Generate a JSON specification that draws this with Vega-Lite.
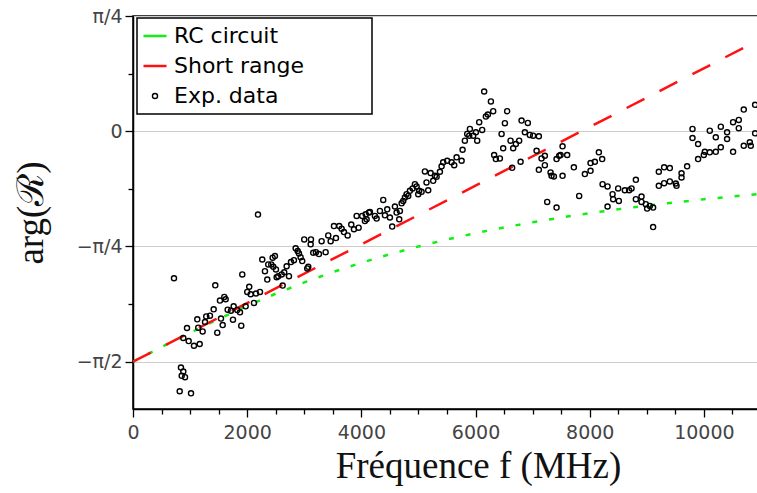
{
  "$schema": "https://vega.github.io/schema/vega-lite/v6.json",
  "width": 628,
  "height": 393,
  "autosize": {"type": "none"},
  "padding": {"left": 133, "top": 16, "right": 0, "bottom": 84},
  "background": "white",
  "config": {
    "view": {"stroke": "black", "strokeWidth": 1.5},
    "axis": {
      "domainColor": "black",
      "domainWidth": 1.5,
      "tickColor": "black",
      "tickWidth": 1.3,
      "labelFont": "DejaVu Sans",
      "labelFontSize": 19,
      "labelColor": "#444444",
      "titleFont": "Liberation Serif",
      "titleFontSize": 37,
      "titleFontWeight": "normal",
      "titleColor": "#111111"
    }
  },
  "datasets": {
    "rc": [
      {"f": 0, "phase": -1.5708}, {"f": 500, "phase": -1.4711}, {"f": 1000, "phase": -1.3734},
      {"f": 1500, "phase": -1.2793}, {"f": 2000, "phase": -1.1903}, {"f": 2500, "phase": -1.1072},
      {"f": 3000, "phase": -1.0304}, {"f": 3500, "phase": -0.9601}, {"f": 4000, "phase": -0.8961},
      {"f": 4500, "phase": -0.838}, {"f": 5000, "phase": -0.7854}, {"f": 5500, "phase": -0.7378},
      {"f": 6000, "phase": -0.6947}, {"f": 6500, "phase": -0.6557}, {"f": 7000, "phase": -0.6203},
      {"f": 7500, "phase": -0.588}, {"f": 8000, "phase": -0.5586}, {"f": 8500, "phase": -0.5317},
      {"f": 9000, "phase": -0.5071}, {"f": 9500, "phase": -0.4845}, {"f": 10000, "phase": -0.4637},
      {"f": 10500, "phase": -0.4445}, {"f": 11000, "phase": -0.4266}
    ],
    "short": [
      {"f": 0, "phase": -1.5708}, {"f": 11000, "phase": 0.6292}
    ],
    "exp": [
      {"f": 718, "phase": -1.002}, {"f": 840, "phase": -1.611}, {"f": 881, "phase": -1.638},
      {"f": 853, "phase": -1.667}, {"f": 911, "phase": -1.676}, {"f": 818, "phase": -1.772},
      {"f": 1016, "phase": -1.786}, {"f": 881, "phase": -1.409}, {"f": 975, "phase": -1.43},
      {"f": 1068, "phase": -1.462}, {"f": 1168, "phase": -1.45}, {"f": 946, "phase": -1.341},
      {"f": 1126, "phase": -1.282}, {"f": 1143, "phase": -1.339}, {"f": 1220, "phase": -1.364},
      {"f": 1261, "phase": -1.3}, {"f": 1283, "phase": -1.262}, {"f": 1348, "phase": -1.257},
      {"f": 1413, "phase": -1.214}, {"f": 1476, "phase": -1.373}, {"f": 1541, "phase": -1.277},
      {"f": 1571, "phase": -1.321}, {"f": 1523, "phase": -1.154}, {"f": 1599, "phase": -1.129},
      {"f": 1623, "phase": -1.145}, {"f": 1441, "phase": -1.05}, {"f": 1658, "phase": -1.216},
      {"f": 1716, "phase": -1.223}, {"f": 1763, "phase": -1.193}, {"f": 1751, "phase": -1.284},
      {"f": 1826, "phase": -1.218}, {"f": 1874, "phase": -1.234}, {"f": 1896, "phase": -1.325},
      {"f": 1973, "phase": -1.193}, {"f": 1914, "phase": -0.976}, {"f": 2119, "phase": -1.17},
      {"f": 2036, "phase": -1.06}, {"f": 2001, "phase": -1.095}, {"f": 2061, "phase": -1.111},
      {"f": 2154, "phase": -1.106}, {"f": 2224, "phase": -1.095}, {"f": 2264, "phase": -0.874},
      {"f": 2311, "phase": -0.954}, {"f": 2352, "phase": -1.011}, {"f": 2369, "phase": -0.908},
      {"f": 2189, "phase": -0.568}, {"f": 2446, "phase": -0.862}, {"f": 2486, "phase": -0.851},
      {"f": 2422, "phase": -0.908}, {"f": 2457, "phase": -0.924}, {"f": 2504, "phase": -0.942},
      {"f": 2544, "phase": -0.988}, {"f": 2516, "phase": -0.995}, {"f": 2621, "phase": -1.052},
      {"f": 2604, "phase": -0.976}, {"f": 2649, "phase": -0.961}, {"f": 2691, "phase": -0.92},
      {"f": 2732, "phase": -0.988}, {"f": 2767, "phase": -0.892}, {"f": 2819, "phase": -0.879},
      {"f": 2849, "phase": -0.798}, {"f": 2884, "phase": -0.817}, {"f": 2907, "phase": -0.833},
      {"f": 2936, "phase": -0.858}, {"f": 2964, "phase": -0.885}, {"f": 2999, "phase": -0.737},
      {"f": 3117, "phase": -0.737}, {"f": 3112, "phase": -0.771}, {"f": 3070, "phase": -0.924},
      {"f": 3052, "phase": -0.935}, {"f": 3157, "phase": -0.828}, {"f": 3204, "phase": -0.824},
      {"f": 3257, "phase": -0.837}, {"f": 3374, "phase": -0.824}, {"f": 3304, "phase": -0.749},
      {"f": 3420, "phase": -0.71}, {"f": 3462, "phase": -0.749}, {"f": 3555, "phase": -0.728},
      {"f": 3520, "phase": -0.646}, {"f": 3612, "phase": -0.646}, {"f": 3654, "phase": -0.664},
      {"f": 3695, "phase": -0.687}, {"f": 3760, "phase": -0.71}, {"f": 3823, "phase": -0.636},
      {"f": 3870, "phase": -0.668}, {"f": 3952, "phase": -0.657}, {"f": 3917, "phase": -0.577},
      {"f": 4015, "phase": -0.577}, {"f": 4075, "phase": -0.566}, {"f": 4133, "phase": -0.554},
      {"f": 4062, "phase": -0.612}, {"f": 4092, "phase": -0.6}, {"f": 4150, "phase": -0.55},
      {"f": 4237, "phase": -0.577}, {"f": 4267, "phase": -0.595}, {"f": 4325, "phase": -0.543},
      {"f": 4383, "phase": -0.468}, {"f": 4413, "phase": -0.573}, {"f": 4453, "phase": -0.532},
      {"f": 4500, "phase": -0.588}, {"f": 4540, "phase": -0.65}, {"f": 4588, "phase": -0.513},
      {"f": 4617, "phase": -0.554}, {"f": 4663, "phase": -0.6}, {"f": 4675, "phase": -0.543},
      {"f": 4705, "phase": -0.491}, {"f": 4733, "phase": -0.475}, {"f": 4763, "phase": -0.452},
      {"f": 4792, "phase": -0.429}, {"f": 4821, "phase": -0.441}, {"f": 4850, "phase": -0.406},
      {"f": 4898, "phase": -0.39}, {"f": 4938, "phase": -0.361}, {"f": 4968, "phase": -0.376},
      {"f": 4996, "phase": -0.429}, {"f": 5055, "phase": -0.413}, {"f": 5013, "phase": -0.406},
      {"f": 5141, "phase": -0.349}, {"f": 5171, "phase": -0.402}, {"f": 5113, "phase": -0.274},
      {"f": 5213, "phase": -0.285}, {"f": 5258, "phase": -0.338}, {"f": 5288, "phase": -0.304},
      {"f": 5318, "phase": -0.311}, {"f": 5376, "phase": -0.276}, {"f": 5405, "phase": -0.239},
      {"f": 5433, "phase": -0.212}, {"f": 5503, "phase": -0.201}, {"f": 5581, "phase": -0.212},
      {"f": 5626, "phase": -0.231}, {"f": 5668, "phase": -0.178}, {"f": 5756, "phase": -0.201},
      {"f": 5773, "phase": -0.126}, {"f": 5813, "phase": -0.064}, {"f": 5854, "phase": -0.018},
      {"f": 5901, "phase": 0.016}, {"f": 5889, "phase": -0.03}, {"f": 5959, "phase": -0.03},
      {"f": 6006, "phase": -0.007}, {"f": 6029, "phase": -0.064}, {"f": 6064, "phase": 0.062},
      {"f": 6116, "phase": 0.009}, {"f": 6181, "phase": 0.1}, {"f": 6216, "phase": 0.114},
      {"f": 6309, "phase": 0.137}, {"f": 6269, "phase": 0.203}, {"f": 6151, "phase": 0.271},
      {"f": 6514, "phase": 0.055}, {"f": 6554, "phase": 0.137}, {"f": 6456, "phase": -0.018},
      {"f": 6326, "phase": -0.162}, {"f": 6356, "phase": -0.19}, {"f": 6426, "phase": -0.185},
      {"f": 6484, "phase": -0.116}, {"f": 6613, "phase": -0.064}, {"f": 6659, "phase": -0.116},
      {"f": 6706, "phase": -0.087}, {"f": 6764, "phase": -0.064}, {"f": 6806, "phase": 0.073},
      {"f": 6916, "phase": 0.057}, {"f": 6864, "phase": -0.007}, {"f": 6951, "phase": -0.025},
      {"f": 7009, "phase": -0.03}, {"f": 7109, "phase": -0.034}, {"f": 6789, "phase": -0.208},
      {"f": 6641, "phase": -0.249}, {"f": 7069, "phase": -0.133}, {"f": 7156, "phase": -0.185},
      {"f": 7214, "phase": -0.167}, {"f": 7214, "phase": -0.231}, {"f": 7109, "phase": -0.263},
      {"f": 7314, "phase": -0.281}, {"f": 7331, "phase": -0.304}, {"f": 7372, "phase": -0.308},
      {"f": 7419, "phase": -0.19}, {"f": 7465, "phase": -0.167}, {"f": 7255, "phase": -0.482},
      {"f": 7419, "phase": -0.52}, {"f": 7524, "phase": -0.103}, {"f": 7489, "phase": -0.162},
      {"f": 7605, "phase": -0.162}, {"f": 7524, "phase": -0.304}, {"f": 7722, "phase": -0.246},
      {"f": 7815, "phase": -0.441}, {"f": 7915, "phase": -0.292}, {"f": 8014, "phase": -0.27},
      {"f": 8014, "phase": -0.217}, {"f": 8090, "phase": -0.208}, {"f": 8160, "phase": -0.144},
      {"f": 8218, "phase": -0.19}, {"f": 8225, "phase": -0.361}, {"f": 8312, "phase": -0.376},
      {"f": 8312, "phase": -0.513}, {"f": 8400, "phase": -0.429}, {"f": 8410, "phase": -0.463},
      {"f": 8498, "phase": -0.39}, {"f": 8510, "phase": -0.475}, {"f": 8615, "phase": -0.402},
      {"f": 8690, "phase": -0.402}, {"f": 8732, "phase": -0.39}, {"f": 8808, "phase": -0.331},
      {"f": 8808, "phase": -0.463}, {"f": 8907, "phase": -0.445}, {"f": 8907, "phase": -0.482},
      {"f": 8983, "phase": -0.497}, {"f": 9005, "phase": -0.527}, {"f": 9053, "phase": -0.509},
      {"f": 9110, "phase": -0.52}, {"f": 9110, "phase": -0.653}, {"f": 9210, "phase": -0.276},
      {"f": 9303, "phase": -0.246}, {"f": 9403, "phase": -0.251}, {"f": 9210, "phase": -0.372},
      {"f": 9303, "phase": -0.354}, {"f": 9403, "phase": -0.342}, {"f": 9508, "phase": -0.356},
      {"f": 9520, "phase": -0.372}, {"f": 9608, "phase": -0.315}, {"f": 9608, "phase": -0.287},
      {"f": 9706, "phase": -0.239}, {"f": 9800, "phase": 0.016}, {"f": 9800, "phase": -0.046},
      {"f": 9898, "phase": -0.087}, {"f": 9898, "phase": -0.19}, {"f": 9998, "phase": -0.162},
      {"f": 10016, "phase": -0.14}, {"f": 10103, "phase": -0.144}, {"f": 10103, "phase": 0.004},
      {"f": 10208, "phase": -0.041}, {"f": 10208, "phase": -0.14}, {"f": 10296, "phase": 0.031},
      {"f": 10296, "phase": -0.109}, {"f": 10406, "phase": -0.007}, {"f": 10406, "phase": -0.053},
      {"f": 10511, "phase": 0.062}, {"f": 10511, "phase": -0.14}, {"f": 10611, "phase": 0.077},
      {"f": 10611, "phase": 0.021}, {"f": 10698, "phase": 0.148}, {"f": 10698, "phase": -0.099},
      {"f": 10804, "phase": -0.075}, {"f": 10821, "phase": -0.099}, {"f": 10897, "phase": -0.014},
      {"f": 10897, "phase": 0.18}
    ]
  },
  "encoding": {
    "x": {
      "field": "f",
      "type": "quantitative",
      "scale": {"domain": [0, 11000], "nice": false, "zero": false},
      "axis": {
        "title": "Fréquence f (MHz)",
        "titleX": 345,
        "titleAlign": "center",
        "grid": false,
        "values": [0, 500, 1000, 1500, 2000, 2500, 3000, 3500, 4000, 4500, 5000, 5500, 6000, 6500, 7000, 7500, 8000, 8500, 9000, 9500, 10000, 10500, 11000],
        "labelExpr": "datum.value % 2000 === 0 ? format(datum.value, 'd') : ''",
        "tickSize": {"condition": {"test": "datum.value % 2000 === 0", "value": 8}, "value": 5},
        "labelPadding": 6,
        "labelFlush": false,
        "titlePadding": 6
      }
    },
    "y": {
      "field": "phase",
      "type": "quantitative",
      "scale": {"domain": [-1.893, 0.7854], "nice": false, "zero": false},
      "axis": {
        "title": "arg(ℛ)",
        "values": [-1.5708, -1.1781, -0.7854, -0.3927, 0, 0.3927, 0.7854],
        "labelExpr": "abs(datum.value) < 0.01 ? '0' : abs(datum.value - 0.7854) < 0.01 ? 'π/4' : abs(datum.value + 0.7854) < 0.01 ? '−π/4' : abs(datum.value + 1.5708) < 0.01 ? '−π/2' : ''",
        "tickSize": {"condition": {"test": "abs(datum.value) < 0.01 || abs(abs(datum.value) - 0.7854) < 0.01 || abs(abs(datum.value) - 1.5708) < 0.01", "value": 8}, "value": 5},
        "grid": true,
        "gridColor": "#cccccc",
        "gridWidth": 1.2,
        "gridOpacity": {"condition": {"test": "abs(datum.value) < 0.01 || abs(abs(datum.value) - 0.7854) < 0.01 || abs(abs(datum.value) - 1.5708) < 0.01", "value": 1}, "value": 0},
        "labelPadding": 3,
        "labelFlush": false,
        "titlePadding": 26
      }
    }
  },
  "layer": [
    {
      "data": {"name": "rc"},
      "mark": {"type": "line", "strokeWidth": 2.5, "strokeDash": [5, 12], "strokeCap": "butt", "clip": true},
      "encoding": {
        "color": {
          "datum": "RC circuit",
          "type": "nominal",
          "scale": {"domain": ["RC circuit", "Short range", "Exp. data"], "range": ["#11ee11", "#ff1111", "black"]},
          "legend": {
            "orient": "none",
            "legendX": 4,
            "legendY": 2,
            "title": "·",
            "titleOrient": "right",
            "titleOpacity": 0,
            "titleFontSize": 8,
            "titlePadding": 58,
            "symbolType": "stroke",
            "symbolSize": 530,
            "symbolStrokeWidth": 2.5,
            "labelFont": "DejaVu Sans",
            "labelFontSize": 22,
            "labelColor": "black",
            "labelOffset": 8,
            "rowPadding": 8,
            "padding": 7,
            "strokeColor": "black",
            "fillColor": "white",
            "encode": {
              "legend": {"update": {"strokeWidth": {"value": 1.5}}},
              "symbols": {
                "update": {
                  "shape": {"signal": "datum.value === 'Exp. data' ? 'circle' : 'stroke'"},
                  "size": {"signal": "datum.value === 'Exp. data' ? 26 : 530"},
                  "strokeWidth": {"signal": "datum.value === 'Exp. data' ? 1.4 : 2.5"},
                  "fill": {"value": "transparent"},
                  "opacity": {"value": 1}
                }
              }
            }
          }
        }
      }
    },
    {
      "data": {"name": "short"},
      "mark": {"type": "line", "strokeWidth": 2.5, "strokeDash": [20, 17], "strokeCap": "butt", "clip": true},
      "encoding": {
        "color": {"datum": "Short range", "type": "nominal"}
      }
    },
    {
      "data": {"name": "exp"},
      "mark": {"type": "point", "filled": false, "size": 26, "strokeWidth": 1.4, "opacity": 1, "clip": true},
      "encoding": {
        "color": {"datum": "Exp. data", "type": "nominal"}
      }
    }
  ]
}
